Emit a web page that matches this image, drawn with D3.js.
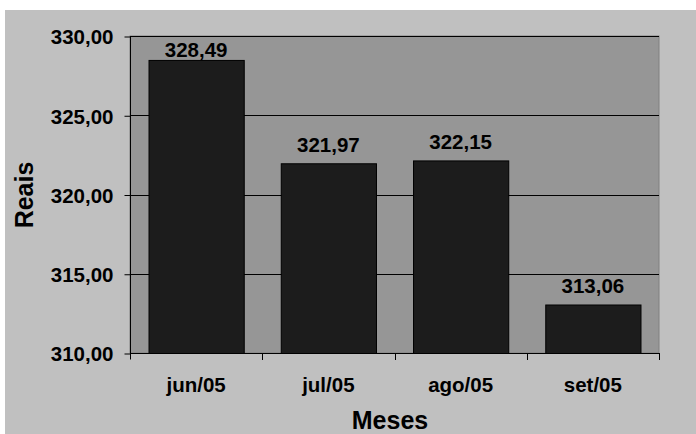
<!DOCTYPE html>
<html>
<head>
<meta charset="utf-8">
<script src="https://cdn.jsdelivr.net/npm/d3@7"></script>
<style>
  html, body { margin: 0; padding: 0; background: #ffffff; }
  svg { display: block; }
  text { font-family: Arial, "Liberation Sans", sans-serif; font-weight: bold; fill: #000; }
</style>
</head>
<body>
<svg id="chart" width="696" height="434"></svg>
<script>
// Monthly values (R$)
const months = ["jun/05", "jul/05", "ago/05", "set/05"];
const values = [328.49, 321.97, 322.15, 313.06];
const yTicks = [310, 315, 320, 325, 330];
const yDomain = [310, 330];

const fmt = v => v.toFixed(2).replace(".", ",");

const svg = d3.select("#chart");
const W = 696, H = 434;
const plot = { left: 130, top: 36, right: 659, bottom: 353 };

// chart area background
svg.append("rect").attr("x", 5).attr("y", 10).attr("width", W - 5).attr("height", H - 10)
  .attr("fill", "#c0c0c0");

const x = d3.scaleBand().domain(months)
  .range([plot.left, plot.right])
  .paddingInner(0.28).paddingOuter(0.14);
const y = d3.scaleLinear().domain(yDomain).range([plot.bottom, plot.top]);

// plot area
svg.append("rect")
  .attr("x", plot.left).attr("y", plot.top)
  .attr("width", plot.right - plot.left).attr("height", plot.bottom - plot.top)
  .attr("fill", "#969696").attr("stroke", "#808080").attr("stroke-width", 1);

// gridlines
svg.append("g").selectAll("line").data(yTicks.filter(t => t > yDomain[0]))
  .join("line")
  .attr("x1", plot.left).attr("x2", plot.right)
  .attr("y1", d => Math.round(y(d)) + 0.5).attr("y2", d => Math.round(y(d)) + 0.5)
  .attr("stroke", "#000").attr("stroke-width", 1);

// bars
svg.append("g").selectAll("rect").data(values)
  .join("rect")
  .attr("x", (d, i) => x(months[i]) + 0.5)
  .attr("y", d => y(d) + 0.5)
  .attr("width", x.bandwidth())
  .attr("height", d => y(yDomain[0]) - y(d))
  .attr("fill", "#1c1c1c").attr("stroke", "#000").attr("stroke-width", 1);

// value labels
svg.append("g").selectAll("text").data(values)
  .join("text")
  .attr("x", (d, i) => x(months[i]) + x.bandwidth() / 2)
  .attr("y", d => Math.max(y(d) - 11.5, 56.5))
  .attr("text-anchor", "middle")
  .attr("font-size", 20.5)
  .text(d => fmt(d));

// y axis
const yAxis = d3.axisLeft(y).tickValues(yTicks).tickSize(6).tickPadding(11)
  .tickFormat(d => fmt(d));
const gy = svg.append("g").attr("transform", `translate(${plot.left + 0.5},0.5)`).call(yAxis);
gy.select(".domain").attr("stroke", "#000").attr("d", `M0,${plot.top}V${plot.bottom + 6}`);
gy.selectAll(".tick line").attr("stroke", "#000");
gy.selectAll(".tick text").attr("font-size", 20.5).attr("font-family", "Arial, 'Liberation Sans', sans-serif")
  .attr("font-weight", "bold").attr("fill", "#000").attr("dy", "0.36em");

// x axis: ticks at category boundaries
const gx = svg.append("g");
gx.append("line")
  .attr("x1", plot.left).attr("x2", plot.right)
  .attr("y1", plot.bottom + 0.5).attr("y2", plot.bottom + 0.5)
  .attr("stroke", "#000");
const step = x.step();
const bounds = months.map((m, i) => plot.left + step * (i + 1));
gx.selectAll("line.tk").data(bounds).join("line").attr("class", "tk")
  .attr("x1", d => Math.round(d) + 0.5).attr("x2", d => Math.round(d) + 0.5)
  .attr("y1", plot.bottom).attr("y2", plot.bottom + 7)
  .attr("stroke", "#000");
gx.selectAll("text").data(months).join("text")
  .attr("x", d => x(d) + x.bandwidth() / 2)
  .attr("y", 392)
  .attr("text-anchor", "middle")
  .attr("font-size", 20.5)
  .text(d => d);

// axis titles
svg.append("text")
  .attr("transform", `translate(33,195) rotate(-90)`)
  .attr("text-anchor", "middle")
  .attr("font-size", 25)
  .text("Reais");
svg.append("text")
  .attr("x", 390).attr("y", 429)
  .attr("text-anchor", "middle")
  .attr("font-size", 25)
  .text("Meses");
</script>
</body>
</html>
